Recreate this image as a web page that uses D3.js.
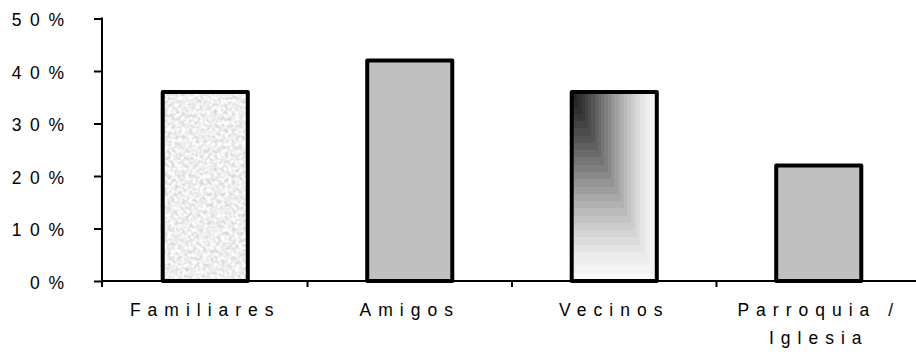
<!DOCTYPE html>
<html>
<head>
<meta charset="utf-8">
<script src="https://cdn.jsdelivr.net/npm/d3@7"></script>
<style>
  html, body { margin: 0; padding: 0; background: #fff; }
  svg { display: block; }
</style>
</head>
<body>
<svg id="chart" width="916" height="354"></svg>
<script>
// Share of people by source of support
const categories = ["Familiares", "Amigos", "Vecinos", "Parroquia / Iglesia"];
const categoryLines = [["Familiares"], ["Amigos"], ["Vecinos"], ["Parroquia /", "Iglesia"]];
const values = [36, 42, 36, 22];
const yTicks = [0, 10, 20, 30, 40, 50];
const yTickLabels = ["0%", "10%", "20%", "30%", "40%", "50%"];

// Fill treatment per category
const fillStyle = {
  "Familiares": "grain",
  "Amigos": "#c0c0c0",
  "Vecinos": "corner",
  "Parroquia / Iglesia": "#c0c0c0"
};

const svg = d3.select("#chart");
const font = "'Liberation Sans', Arial, sans-serif";
const fontSize = 17.5;
const xSpacing = 7;
const ySpacing = 8.6;

const x = d3.scaleBand()
  .domain(categories)
  .range([103, 921])
  .paddingInner(0.584)
  .paddingOuter(0.292);

const y = d3.scaleLinear().domain([0, 50]).range([281, 18.5]);
const axisX = 102;

// Grainy light-grey texture
const defs = svg.append("defs");
const grain = defs.append("filter")
  .attr("id", "grain")
  .attr("x", 0).attr("y", 0).attr("width", 1).attr("height", 1)
  .attr("color-interpolation-filters", "sRGB");
grain.append("feTurbulence")
  .attr("type", "fractalNoise")
  .attr("baseFrequency", 0.28)
  .attr("numOctaves", 2)
  .attr("seed", 7)
  .attr("result", "n");
grain.append("feColorMatrix")
  .attr("in", "n")
  .attr("type", "matrix")
  .attr("values", "0.32 0 0 0 0.775  0.32 0 0 0 0.775  0.32 0 0 0 0.775  0 0 0 0 1");

// Grey ramp for the corner shading
const cornerGrey = d3.scaleLinear()
  .domain([0, 0.12, 0.25, 0.4, 0.55, 0.7, 0.85, 1])
  .range(["#1a1a1a", "#363636", "#555555", "#7e7e7e", "#a6a6a6", "#cacaca", "#e9e9e9", "#fbfbfb"]);
const cornerSteps = 26;

const bars = svg.append("g")
  .selectAll("g")
  .data(categories.map((c, i) => ({ c, v: values[i] })))
  .join("g");

bars.each(function (d) {
  const g = d3.select(this);
  const bx = x(d.c), bw = x.bandwidth();
  const by = y(d.v), bh = y(0) - y(d.v);
  const style = fillStyle[d.c];
  if (style === "grain") {
    g.append("rect")
      .attr("x", bx).attr("y", by).attr("width", bw).attr("height", bh)
      .attr("fill", "#eee")
      .attr("filter", "url(#grain)");
  } else if (style === "corner") {
    const steps = d3.range(cornerSteps, 0, -1);
    g.selectAll("rect.step")
      .data(steps)
      .join("rect")
      .attr("class", "step")
      .attr("x", bx).attr("y", by)
      .attr("width", k => bw * k / cornerSteps)
      .attr("height", k => bh * k / cornerSteps)
      .attr("fill", k => cornerGrey((k - 0.5) / cornerSteps))
      .attr("shape-rendering", "crispEdges");
  } else {
    g.append("rect")
      .attr("x", bx).attr("y", by).attr("width", bw).attr("height", bh)
      .attr("fill", style);
  }
  g.append("rect")
    .attr("x", bx).attr("y", by).attr("width", bw).attr("height", bh)
    .attr("fill", "none")
    .attr("stroke", "#000")
    .attr("stroke-width", 4)
    .attr("stroke-linejoin", "round");
});

// Y axis
const yAxis = svg.append("g")
  .attr("transform", `translate(${axisX},0)`)
  .call(d3.axisLeft(y)
    .tickValues(yTicks)
    .tickSize(8)
    .tickFormat((t, i) => yTickLabels[i]));
yAxis.select(".domain").remove();
yAxis.selectAll(".tick line").attr("stroke", "#000").attr("stroke-width", 2);
yAxis.selectAll(".tick text")
  .attr("x", -38 + ySpacing)
  .attr("font-family", font)
  .attr("font-size", fontSize)
  .attr("letter-spacing", ySpacing + "px")
  .attr("fill", "#000")
  .attr("dy", "0.4em");

svg.append("line")
  .attr("x1", axisX).attr("x2", axisX)
  .attr("y1", y(50) - 1).attr("y2", y(0) + 6)
  .attr("stroke", "#000").attr("stroke-width", 2);

// X axis
svg.append("line")
  .attr("x1", axisX).attr("x2", 916)
  .attr("y1", y(0)).attr("y2", y(0))
  .attr("stroke", "#000").attr("stroke-width", 2);

const boundaries = categories.slice(1).map(c => x(c) - x.step() * x.paddingInner() / 2);
svg.append("g")
  .selectAll("line")
  .data(boundaries)
  .join("line")
  .attr("x1", b => b).attr("x2", b => b)
  .attr("y1", y(0)).attr("y2", y(0) + 6)
  .attr("stroke", "#000").attr("stroke-width", 2);

// Category labels
const labels = svg.append("g")
  .selectAll("text")
  .data(categories.map((c, i) => ({ c, lines: categoryLines[i] })))
  .join("text")
  .attr("text-anchor", "middle")
  .attr("font-family", font)
  .attr("font-size", fontSize)
  .attr("letter-spacing", xSpacing + "px")
  .attr("fill", "#000");

labels.selectAll("tspan")
  .data(d => d.lines.map(line => ({ line, c: d.c })))
  .join("tspan")
  .attr("x", d => x(d.c) + x.bandwidth() / 2)
  .attr("y", (d, i) => 315.5 + i * 28.5)
  .text(d => d.line);
</script>
</body>
</html>
